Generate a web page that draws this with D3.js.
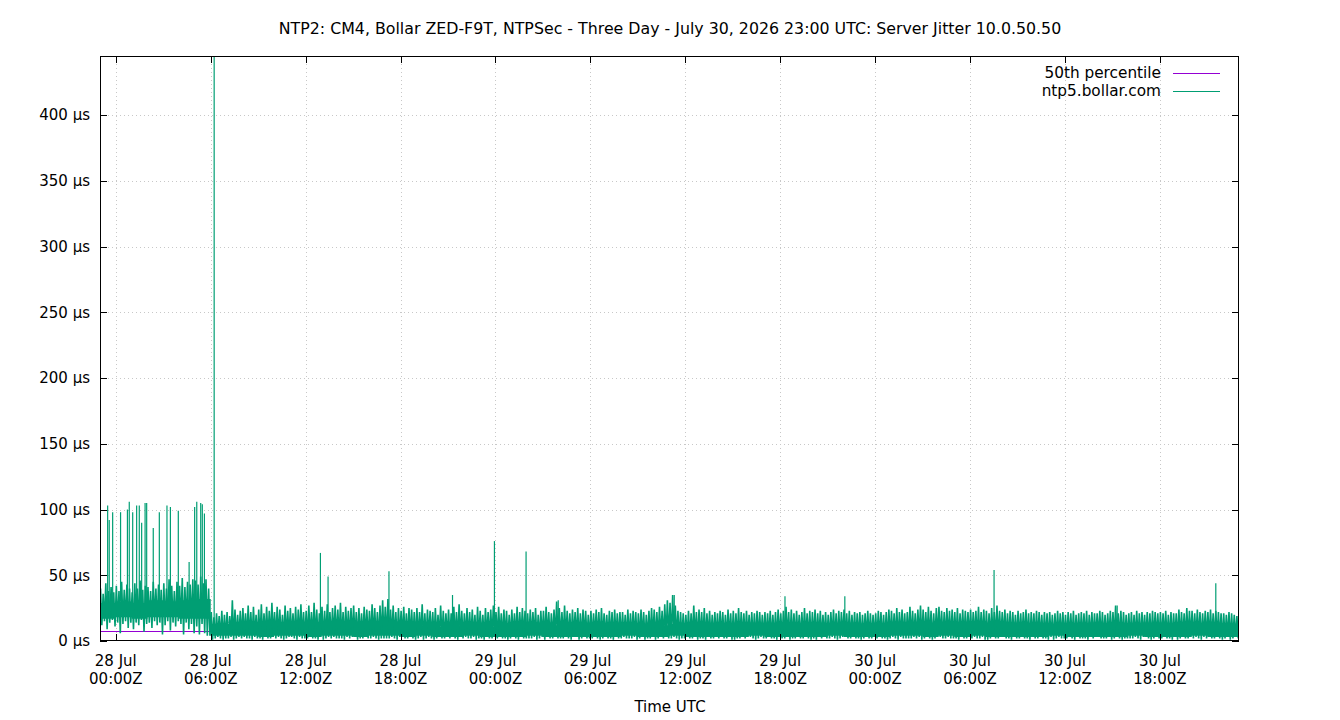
<!DOCTYPE html>
<html>
<head>
<meta charset="utf-8">
<script src="https://cdn.jsdelivr.net/npm/d3@7"></script>
<style>
  body { margin: 0; background: white; }
  svg { display: block; font-family: 'DejaVu Sans', sans-serif; }
</style>
</head>
<body>
<script>
const title = 'NTP2: CM4, Bollar ZED-F9T, NTPSec - Three Day - July 30, 2026 23:00 UTC: Server Jitter 10.0.50.50'
const xLabel = 'Time UTC'
const startTime = '2026-07-27T23:00'
const endTime = '2026-07-30T23:00'
const yMax = 445
const yTicks = [0, 50, 100, 150, 200, 250, 300, 350, 400]
const xTicks = ['2026-07-28T00:00', '2026-07-28T06:00', '2026-07-28T12:00', '2026-07-28T18:00',
  '2026-07-29T00:00', '2026-07-29T06:00', '2026-07-29T12:00', '2026-07-29T18:00',
  '2026-07-30T00:00', '2026-07-30T06:00', '2026-07-30T12:00', '2026-07-30T18:00']
const seriesNames = ['50th percentile', 'ntp5.bollar.com']
const seriesColors = ['#9400d3', '#009e73']

// 50th percentile of the jitter, µs
const p50 = 7.6

// dense body of the jitter trace, one value per hour (µs)
const bandLow = [17, 18, 17, 18, 18, 17, 17,
  4, 4, 4, 3, 4, 4, 3, 4, 4, 3, 4, 4,
  3, 4, 3, 3, 4, 3, 3, 3, 4, 3, 3, 3,
  3, 3, 4, 3, 3, 4, 3, 3, 3, 3, 4, 3,
  3, 3, 3, 4, 3, 3, 3, 4, 4, 3, 4, 3,
  4, 3, 3, 3, 3, 4, 3, 3, 3, 3, 4, 3,
  3, 3, 4, 3, 3]
const bandHigh = [29, 30, 29, 31, 30, 31, 32,
  11, 13, 14, 13, 14, 14, 13, 14, 15, 14, 13, 14,
  12, 12, 11, 12, 12, 11, 12, 12, 11, 12, 12, 11,
  11, 11, 12, 11, 12, 13, 12, 11, 11, 12, 11, 11,
  12, 11, 11, 12, 11, 11, 12, 12, 13, 13, 13, 12,
  13, 12, 12, 12, 11, 12, 12, 12, 11, 12, 12, 11,
  12, 12, 12, 12, 11]

// highest / lowest jitter in each 10 minute bin (µs)
const jitMax = [
  40, 36, 44, 38, 41, 37, 42, 38, 45, 39, 43, 40, 37, 44, 40, 46, 39, 42,
  41, 38, 45, 40, 43, 39, 44, 40, 47, 42, 38, 45, 42, 48, 41, 45, 43, 47,
  46, 43, 49, 44, 47, 40,
  22, 18, 21, 19, 23, 20, 22, 19, 31, 24, 20, 23, 25, 21, 27, 22, 26, 20,
  24, 28, 21, 26, 23, 29, 22, 26, 24, 20, 27, 23, 25, 21, 26, 24, 28, 22,
  23, 27, 22, 29, 24, 21, 26, 23, 28, 22, 25, 27, 24, 29, 22, 26, 23, 25,
  27, 22, 25, 21, 26, 24, 23, 28, 25, 22, 27, 31, 26, 32, 24, 27, 22, 25,
  23, 26, 21, 25, 24, 22, 25, 22, 28, 21, 24, 23, 22, 25, 20, 27, 23, 21,
  24, 21, 26, 22, 28, 23, 21, 25, 22, 24, 20, 26, 23, 20, 25, 22, 24, 27,
  22, 26, 21, 24, 23, 20, 24, 21, 26, 22, 25, 23, 21, 24, 22, 25, 20, 23,
  23, 26, 22, 21, 24, 30, 25, 22, 27, 23, 21, 24, 22, 25, 21, 24, 23, 20,
  23, 21, 24, 22, 25, 21, 20, 23, 22, 24, 21, 22, 22, 20, 24, 21, 23, 22,
  21, 24, 22, 20, 23, 25, 24, 22, 26, 23, 28, 31, 29, 35, 27, 23, 22, 21,
  20, 23, 21, 27, 22, 24, 22, 25, 21, 23, 20, 22, 21, 23, 22, 20, 24, 21,
  23, 21, 25, 22, 21, 23, 20, 22, 21, 23, 22, 20, 22, 21, 23, 20, 22, 24,
  21, 23, 26, 22, 24, 21, 23, 20, 22, 25, 21, 23, 22, 24, 21, 23, 20, 22,
  20, 22, 24, 21, 23, 22, 24, 21, 23, 20, 22, 21, 22, 20, 21, 23, 21, 20,
  21, 23, 22, 20, 22, 24, 23, 21, 25, 22, 24, 21, 22, 26, 23, 21, 24, 27,
  24, 22, 26, 23, 21, 25, 26, 23, 22, 25, 23, 24, 22, 25, 21, 24, 23, 22,
  24, 22, 23, 26, 22, 24, 23, 21, 25, 22, 27, 23, 22, 24, 21, 23, 22, 20,
  23, 21, 22, 24, 21, 22, 21, 23, 22, 20, 22, 21, 22, 20, 21, 23, 21, 22,
  20, 22, 21, 23, 20, 21, 22, 21, 23, 20, 22, 21, 21, 23, 22, 20, 21, 23,
  22, 27, 21, 23, 22, 20, 21, 22, 20, 23, 21, 22, 20, 22, 21, 23, 22, 21,
  22, 21, 23, 20, 22, 21, 21, 24, 22, 21, 25, 23, 23, 21, 24, 22, 21, 23,
  22, 24, 21, 23, 22, 21, 21, 20, 22, 21, 20, 19]
const jitMin = [
  12, 15, 9, 14, 16, 11, 14, 6, 13, 15, 10, 14, 9, 14, 12, 16, 7, 13,
  14, 10, 15, 12, 14, 5, 12, 15, 8, 14, 11, 15, 13, 5, 14, 9, 13, 6,
  11, 5, 13, 6, 4, 4,
  1, 2, 3, 2, 1, 2, 2, 3, 1, 2, 3, 2, 3, 2, 2, 1, 3, 2,
  2, 1, 3, 2, 2, 3, 2, 3, 2, 1, 2, 3, 3, 2, 1, 3, 2, 2,
  2, 3, 2, 2, 1, 3, 1, 2, 3, 2, 3, 2, 2, 2, 1, 3, 2, 3,
  3, 1, 2, 2, 3, 2, 2, 3, 2, 1, 2, 2, 2, 2, 3, 2, 1, 3,
  3, 2, 2, 3, 2, 1, 2, 3, 1, 2, 3, 2, 1, 2, 3, 2, 2, 3,
  2, 3, 2, 1, 3, 2, 3, 2, 2, 3, 1, 2, 2, 1, 3, 2, 2, 3,
  2, 3, 2, 2, 1, 2, 3, 2, 1, 3, 2, 2, 2, 2, 3, 1, 2, 3,
  1, 3, 2, 2, 3, 2, 2, 2, 3, 2, 1, 3, 3, 1, 2, 3, 2, 2,
  2, 3, 2, 1, 2, 3, 2, 2, 1, 3, 2, 2, 3, 2, 2, 2, 3, 1,
  2, 3, 1, 2, 2, 3, 1, 2, 3, 2, 3, 2, 2, 3, 2, 1, 2, 2,
  3, 2, 2, 3, 1, 2, 2, 1, 3, 2, 2, 3, 2, 3, 2, 2, 3, 1,
  1, 2, 2, 3, 2, 3, 3, 2, 1, 2, 3, 2, 2, 3, 2, 2, 1, 3,
  2, 2, 3, 1, 2, 2, 3, 2, 2, 3, 2, 1, 2, 1, 3, 2, 3, 2,
  2, 3, 2, 1, 2, 3, 3, 2, 2, 3, 2, 2, 1, 2, 3, 2, 2, 3,
  2, 3, 2, 2, 1, 2, 3, 2, 1, 3, 2, 2, 2, 2, 3, 2, 3, 1,
  2, 3, 2, 1, 2, 3, 3, 2, 2, 3, 2, 2, 2, 1, 3, 2, 2, 3,
  2, 3, 2, 2, 3, 1, 1, 2, 3, 2, 2, 3, 3, 2, 2, 1, 3, 2,
  2, 3, 2, 2, 1, 3, 2, 2, 3, 2, 2, 1, 3, 1, 2, 3, 2, 2,
  2, 3, 2, 1, 3, 2, 2, 2, 1, 3, 2, 3, 3, 2, 2, 2, 3, 1,
  2, 3, 2, 1, 2, 2, 2, 2, 3, 2, 1, 3, 3, 2, 1, 2, 3, 2,
  2, 3, 2, 2, 1, 3, 1, 2, 3, 2, 2, 3, 2, 3, 2, 1, 3, 2,
  3, 2, 2, 3, 2, 1, 2, 3, 1, 2, 3, 2]

// isolated spikes, [time, µs]
const spikes = [
  ['2026-07-27T23:29', 103], ['2026-07-27T23:35', 92], ['2026-07-27T23:48', 98],
  ['2026-07-28T00:18', 98], ['2026-07-28T00:44', 100], ['2026-07-28T00:51', 106],
  ['2026-07-28T01:04', 98], ['2026-07-28T01:19', 103], ['2026-07-28T01:29', 103],
  ['2026-07-28T01:38', 90], ['2026-07-28T01:51', 105], ['2026-07-28T01:57', 105],
  ['2026-07-28T02:22', 86], ['2026-07-28T02:45', 98], ['2026-07-28T03:14', 103],
  ['2026-07-28T03:27', 102], ['2026-07-28T03:57', 99], ['2026-07-28T04:38', 60],
  ['2026-07-28T04:59', 102], ['2026-07-28T05:07', 106], ['2026-07-28T05:22', 105],
  ['2026-07-28T05:28', 104], ['2026-07-28T05:36', 97], ['2026-07-28T06:13', 520],
  ['2026-07-28T12:56', 67], ['2026-07-28T13:25', 49], ['2026-07-28T17:16', 53],
  ['2026-07-28T21:17', 35], ['2026-07-28T23:56', 76], ['2026-07-29T01:56', 68],
  ['2026-07-29T03:58', 31], ['2026-07-29T11:18', 35], ['2026-07-29T18:18', 34],
  ['2026-07-29T22:05', 34], ['2026-07-30T07:31', 54], ['2026-07-30T15:18', 27],
  ['2026-07-30T21:32', 44]]

const width = 1340, height = 720
const plot = { left: 100, right: 1239, top: 56, bottom: 641 }

const parse = d3.utcParse('%Y-%m-%dT%H:%M')
const t0 = parse(startTime), t1 = parse(endTime)

const x = d3.scaleUtc().domain([t0, t1]).range([plot.left, plot.right])
const y = d3.scaleLinear().domain([0, yMax]).range([plot.bottom, plot.top])

const svg = d3.select('body').append('svg')
  .attr('width', width)
  .attr('height', height)

svg.append('defs').append('clipPath').attr('id', 'plotclip')
  .append('rect')
  .attr('x', plot.left).attr('y', plot.top)
  .attr('width', plot.right - plot.left).attr('height', plot.bottom - plot.top)

// grid
const grid = svg.append('g')
  .attr('stroke', '#c8c8c8')
  .attr('stroke-width', 1)
  .attr('stroke-dasharray', '1,3')
grid.selectAll('line.gx').data(xTicks).join('line')
  .attr('x1', d => Math.round(x(parse(d))) + 0.5).attr('x2', d => Math.round(x(parse(d))) + 0.5)
  .attr('y1', plot.top).attr('y2', plot.bottom)
grid.selectAll('line.gy').data(yTicks.filter(v => v > 0)).join('line')
  .attr('x1', plot.left).attr('x2', plot.right)
  .attr('y1', d => Math.round(y(d)) + 0.5).attr('y2', d => Math.round(y(d)) + 0.5)

const g = svg.append('g').attr('clip-path', 'url(#plotclip)')

// 50th percentile
const p50y = Math.round(y(p50)) + 0.5
g.append('line')
  .attr('x1', plot.left).attr('x2', plot.right)
  .attr('y1', p50y).attr('y2', p50y)
  .attr('stroke', seriesColors[0])
  .attr('stroke-width', 1)

// jitter body
const bandPts = bandLow.map((lo, i) => ({ t: d3.utcHour.offset(t0, i), lo, hi: bandHigh[i] }))
bandPts.push({ t: t1, lo: bandLow[bandLow.length - 1], hi: bandHigh[bandHigh.length - 1] })
g.append('path')
  .datum(bandPts)
  .attr('fill', seriesColors[1])
  .attr('d', d3.area().curve(d3.curveStepAfter)
    .x(d => x(d.t)).y0(d => y(d.lo)).y1(d => y(d.hi)))

// jitter trace: each 10 minute bin swings from its max to its min
const trace = []
jitMax.forEach((hi, i) => {
  trace.push([d3.utcMinute.offset(t0, i * 10 + 2), hi])
  trace.push([d3.utcMinute.offset(t0, i * 10 + 7), jitMin[i]])
})
g.append('path')
  .datum(trace)
  .attr('fill', 'none')
  .attr('stroke', seriesColors[1])
  .attr('stroke-width', 1.6)
  .attr('stroke-linejoin', 'bevel')
  .attr('d', d3.line().x(d => x(d[0])).y(d => y(d[1])))

// spikes
g.append('g')
  .attr('stroke', seriesColors[1])
  .attr('stroke-width', 1.2)
  .selectAll('line').data(spikes).join('line')
  .attr('x1', d => x(parse(d[0]))).attr('x2', d => x(parse(d[0])))
  .attr('y1', d => y(bandHigh[Math.floor((parse(d[0]) - t0) / 3600000)]))
  .attr('y2', d => y(d[1]))

// border
svg.append('rect')
  .attr('x', plot.left + 0.5).attr('y', plot.top + 0.5)
  .attr('width', plot.right - plot.left - 1).attr('height', plot.bottom - plot.top - 1)
  .attr('fill', 'none').attr('stroke', 'black').attr('stroke-width', 1)

// ticks, mirrored
const ticks = svg.append('g').attr('stroke', 'black').attr('stroke-width', 1)
xTicks.forEach(d => {
  const px = Math.round(x(parse(d))) + 0.5
  ticks.append('line').attr('x1', px).attr('x2', px).attr('y1', plot.bottom).attr('y2', plot.bottom - 7)
  ticks.append('line').attr('x1', px).attr('x2', px).attr('y1', plot.top).attr('y2', plot.top + 7)
})
yTicks.forEach(v => {
  const py = Math.round(y(v)) + 0.5
  ticks.append('line').attr('x1', plot.left).attr('x2', plot.left + 7).attr('y1', py).attr('y2', py)
  ticks.append('line').attr('x1', plot.right).attr('x2', plot.right - 7).attr('y1', py).attr('y2', py)
})

// labels
const fmtDay = d3.utcFormat('%d %b')
const fmtHour = d3.utcFormat('%H:%MZ')
const xl = svg.append('g').attr('font-size', 15).attr('text-anchor', 'middle').attr('fill', 'black')
xTicks.forEach(d => {
  const t = xl.append('text').attr('x', x(parse(d)))
  t.append('tspan').attr('x', x(parse(d))).attr('y', 666).text(fmtDay(parse(d)))
  t.append('tspan').attr('x', x(parse(d))).attr('y', 684).text(fmtHour(parse(d)))
})
svg.append('g').attr('font-size', 15).attr('text-anchor', 'end')
  .selectAll('text').data(yTicks).join('text')
  .attr('x', 90).attr('y', d => y(d)).attr('dy', '0.35em')
  .text(d => d + ' µs')

svg.append('text').attr('x', 670).attr('y', 34).attr('text-anchor', 'middle')
  .attr('font-size', 15.8).text(title)
svg.append('text').attr('x', 670).attr('y', 712).attr('text-anchor', 'middle')
  .attr('font-size', 15).text(xLabel)

// legend
const legend = svg.append('g').attr('font-size', 15.3)
seriesNames.forEach((name, i) => {
  const ly = 73 + i * 18
  legend.append('text').attr('x', 1161).attr('y', ly).attr('dy', '0.35em')
    .attr('text-anchor', 'end').text(name)
  legend.append('line').attr('x1', 1173).attr('x2', 1220).attr('y1', ly + 0.5).attr('y2', ly + 0.5)
    .attr('stroke', seriesColors[i]).attr('stroke-width', 1)
})
</script>
</body>
</html>
